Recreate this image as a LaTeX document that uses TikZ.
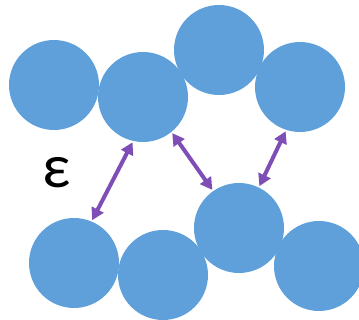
\documentclass[tikz,border=0pt]{standalone}
\usepackage{fontspec}
\setmainfont{Carlito}
\usetikzlibrary{arrows.meta}
\definecolor{ballblue}{HTML}{5FA0DA}
\definecolor{bondpurple}{HTML}{7E4DB6}
\begin{document}
\begin{tikzpicture}[x=1pt,y=-1pt,
  ball/.style={circle,fill=ballblue,minimum size=90pt,inner sep=0pt,outer sep=1.5pt},
  bond/.style={bondpurple,line width=4pt,
    {Triangle[length=12pt,width=13pt]}-{Triangle[length=12pt,width=13pt]}}]
\useasboundingbox (0,0) rectangle (359,320);
% upper layer
\node[ball] (a) at (54,85) {};
\node[ball] (b) at (143,97) {};
\node[ball] (c) at (219,50) {};
\node[ball] (d) at (300,87) {};
% lower layer
\node[ball] (e) at (74,263) {};
\node[ball] (f) at (163,275) {};
\node[ball] (g) at (239,228) {};
\node[ball] (h) at (319,266) {};
% interaction energy label
\node[font=\fontsize{62}{62}\selectfont] (eps) at (57,173) {ε};
% pair interactions between the layers
\draw[bond] (b.257) -- (e.67);
\draw[bond] (b.309) -- (g.125);
\draw[bond] (d.252) -- (g.64);
\end{tikzpicture}
\end{document}
